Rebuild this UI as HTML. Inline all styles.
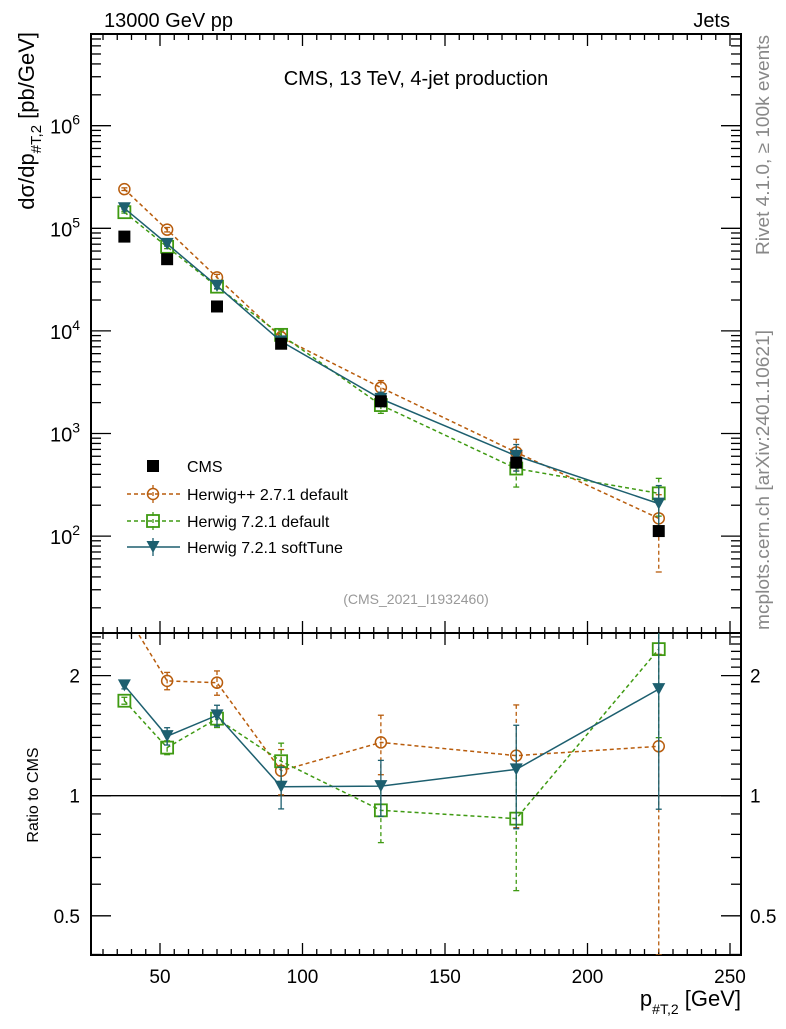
<!DOCTYPE html>
<html><head><meta charset="utf-8"><style>
html,body{margin:0;padding:0;background:#fff;}
svg text{font-family:"Liberation Sans",sans-serif;}
</style></head><body>
<svg id="chart" width="786" height="1024" xmlns="http://www.w3.org/2000/svg"></svg>
<script>
const categories=[37.5,52.5,70,92.5,127.5,175,225];
const cmsValues=[8.3e4,5.0e4,1.73e4,7.5e3,2.06e3,520,112];
const hppRatio=[2.9,1.94,1.92,1.155,1.36,1.26,1.33];
const hppErr=[0.03,0.05,0.07,0.13,0.17,0.34,0.7];
const h721Ratio=[1.73,1.32,1.56,1.22,0.919,0.876,2.33];
const h721Err=[0.02,0.04,0.05,0.11,0.17,0.34,0.4];
const softRatio=[1.89,1.41,1.59,1.053,1.057,1.164,1.85];
const softErr=[0.02,0.05,0.06,0.12,0.16,0.29,0.5];
const xTicks=[50,100,150,200,250];
const mainTicks=[2,3,4,5,6];
const ratioTicks=[0.5,1,2];

const NS="http://www.w3.org/2000/svg";
const svg=document.getElementById('chart');
function mk(tag,attrs,parent){const e=document.createElementNS(NS,tag);for(const k in attrs)e.setAttribute(k,attrs[k]);(parent||svg).appendChild(e);return e;}
const L=91,R=741,MT=34,MB=633,RB=955;
function X(v){return 160+(v-50)*2.85;}
function YM(v){return 228.3-(Math.log10(v)-5)*102.6;}
function YR(v){return 795.7-Math.log10(v)*399;}

const f1=mk('rect',{x:L,y:MT,width:R-L,height:MB-MT,fill:'none',stroke:'#000','stroke-width':2});


const f2=mk('rect',{x:L,y:MB,width:R-L,height:RB-MB,fill:'none',stroke:'#000','stroke-width':2});



for(let v=30;v<=250;v+=5){const major=v%50===0;const len=major?12:6;const x=X(v);
 [[MT,1],[MB,-1],[MB,1],[RB,-1]].forEach(([y,d])=>{const t=mk('line',{x1:x,x2:x,y1:y,y2:y+d*len,stroke:'#000','stroke-width':1.3});
 
 });}
xTicks.forEach(v=>{const t=mk('text',{x:X(v),y:983,'font-size':19,'text-anchor':'middle'});t.textContent=v;
 
 });
for(let d=1;d<=6;d++){for(let m=1;m<10;m++){const v=m*Math.pow(10,d);const y=YM(v);if(y<MT||y>MB)continue;const len=m===1?20:10;
 [[L,1],[R,-1]].forEach(([x,s])=>{const t=mk('line',{x1:x,x2:x+s*len,y1:y,y2:y,stroke:'#000','stroke-width':1.3});
 
 });}}
mainTicks.forEach(p=>{const t=mk('text',{x:80,y:YM(Math.pow(10,p))+8,'font-size':20,'text-anchor':'end'});
 t.innerHTML='10<tspan font-size="14" dy="-9">'+p+'</tspan>';
 
 });
for(let i=4;i<=25;i++){const v=i/10;const y=YR(v);if(y<MB||y>RB)continue;const major=(v===0.5||v===1||v===2);const len=major?20:10;
 [[L,1],[R,-1]].forEach(([x,s])=>{const t=mk('line',{x1:x,x2:x+s*len,y1:y,y2:y,stroke:'#000','stroke-width':1.3});
 
 });}
ratioTicks.forEach(v=>{[[80,'end'],[750,'start']].forEach(([x,a])=>{const t=mk('text',{x:x,y:YR(v)+7,'font-size':19,'text-anchor':a});t.textContent=v;
 
 });});
const one=mk('line',{x1:L,x2:R,y1:YR(1),y2:YR(1),stroke:'#000','stroke-width':1.3});



function txt(s,a,name){const t=mk('text',a);t.innerHTML=s;return t;}
txt('13000 GeV pp',{x:104,y:27,'font-size':20},'beam-label');
txt('Jets',{x:730,y:27,'font-size':20,'text-anchor':'end'},'process-label');
txt('CMS, 13 TeV, 4-jet production',{x:416,y:85,'font-size':20,'text-anchor':'middle'},'plot-title');
txt('(CMS_2021_I1932460)',{x:416,y:604,'font-size':14,fill:'#999','text-anchor':'middle'},'analysis-id');
txt('dσ/dp<tspan font-size="15" dy="7">#T,2</tspan><tspan dy="-7"> [pb/GeV]</tspan>',{x:0,y:0,'font-size':22,'text-anchor':'end',transform:'translate(34,32) rotate(-90)'},'y-axis-title');
txt('Ratio to CMS',{x:0,y:0,'font-size':16,'text-anchor':'middle',transform:'translate(38,795) rotate(-90)'},'ratio-axis-title');
txt('Rivet 4.1.0, ≥ 100k events',{x:0,y:0,'font-size':18,fill:'#888','text-anchor':'end',textLength:220,lengthAdjust:'spacingAndGlyphs',transform:'translate(769,35) rotate(-90)'},'rivet-label');
txt('mcplots.cern.ch [arXiv:2401.10621]',{x:0,y:0,'font-size':18,fill:'#888','text-anchor':'end',textLength:300,lengthAdjust:'spacingAndGlyphs',transform:'translate(769,330) rotate(-90)'},'mcplots-label');
txt('p<tspan font-size="14" dy="8">#T,2</tspan><tspan dy="-8"> [GeV]</tspan>',{x:741,y:1006,'font-size':22,'text-anchor':'end'},'x-axis-title');

const series=[
 {name:'herwigpp',label:'Herwig++ 2.7.1 default',color:'#b85c0c',dash:'4,3',ratio:hppRatio,err:hppErr,marker:'circle'},
 {name:'herwig721',label:'Herwig 7.2.1 default',color:'#3f9a12',dash:'4,3',ratio:h721Ratio,err:h721Err,marker:'square'},
 {name:'softtune',label:'Herwig 7.2.1 softTune',color:'#1d5f6f',dash:'',ratio:softRatio,err:softErr,marker:'tri'}];
function marker(type,x,y,color,g){
 if(type==='circle')return mk('circle',{cx:x,cy:y,r:5.5,fill:'none',stroke:color,'stroke-width':1.5},g);
 if(type==='square')return mk('rect',{x:x-6,y:y-6,width:12,height:12,fill:'none',stroke:color,'stroke-width':1.8},g);
 if(type==='tri')return mk('path',{d:`M${x-6.5},${y-6}L${x+6.5},${y-6}L${x},${y+6}Z`,fill:color},g);
 return mk('rect',{x:x-6,y:y-6,width:12,height:12,fill:color},g);}
const clipDefs=mk('defs',{});
const c1=mk('clipPath',{id:'cm'},clipDefs);mk('rect',{x:L,y:MT,width:R-L,height:MB-MT},c1);
const c2=mk('clipPath',{id:'cr'},clipDefs);mk('rect',{x:L,y:MB,width:R-L,height:RB-MB},c2);

series.forEach(s=>{
 ['main','ratio'].forEach(panel=>{
  const g=mk('g',{'clip-path':panel==='main'?'url(#cm)':'url(#cr)'});
  
  
  const vals=categories.map((c,i)=>panel==='main'?s.ratio[i]*cmsValues[i]:s.ratio[i]);
  const Y=panel==='main'?YM:YR;
  const pts=categories.map((c,i)=>X(c)+','+Y(vals[i])).join(' ');
  const pl=mk('polyline',{points:pts,fill:'none',stroke:s.color,'stroke-width':1.5,'stroke-dasharray':s.dash},g);
  
  
  categories.forEach((c,i)=>{const x=X(c);const v=vals[i];const e=s.err[i];
   const y1=Y(v*(1+e)),y2=Y(Math.max(v*(1-e),1e-3));
   const eb=mk('line',{x1:x,x2:x,y1:y1,y2:y2,stroke:s.color,'stroke-width':1.3,'stroke-dasharray':s.dash},g);
   
   
   [y1,y2].forEach(yy=>{mk('line',{x1:x-3,x2:x+3,y1:yy,y2:yy,stroke:s.color,'stroke-width':1.3},g);});
   const m=marker(s.marker,x,Y(v),s.color,g);
   
   
  });
 });
});
const gc=mk('g',{'clip-path':'url(#cm)'});


categories.forEach((c,i)=>{const m=marker('fill',X(c),YM(cmsValues[i]),'#000',gc);
 
 });

const lg=mk('g',{});


const ly=[466,494,521,547];
const cmsM=marker('fill',153,ly[0],'#000',lg);


txt('CMS',{x:187,y:ly[0]+6,'font-size':16},'legend-entry-cms');
series.forEach((s,i)=>{const y=ly[i+1];
 mk('line',{x1:127,x2:180,y1:y,y2:y,stroke:s.color,'stroke-width':1.5,'stroke-dasharray':s.dash},lg);
 mk('line',{x1:153,x2:153,y1:y-9,y2:y+9,stroke:s.color,'stroke-width':1.3,'stroke-dasharray':s.dash},lg);
 const m=marker(s.marker,153,y,s.color,lg);
 
 
 txt(s.label,{x:187,y:y+6,'font-size':16},'legend-entry');
});
</script>
</body></html>
